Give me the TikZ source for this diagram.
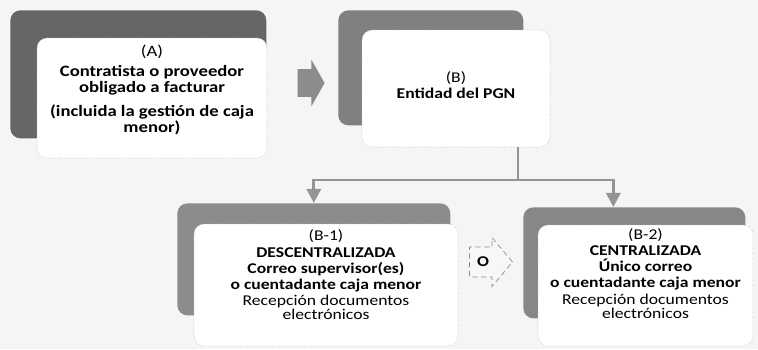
\documentclass[tikz,border=0pt]{standalone}
\usepackage{fontspec}
\setmainfont{Carlito}[FakeStretch=1.18]
\usepackage{tikz}
\usetikzlibrary{arrows.meta,positioning,shapes.arrows}

\begin{document}
\begin{tikzpicture}[x=0.02cm, y=-0.02cm,
shadebox/.style={fill=#1, rounded corners=0.2cm, anchor=north west, inner sep=0pt},
cardbox/.style={draw=black!25, densely dotted, fill=white, rounded corners=0.2cm, inner sep=0pt},
cardtext/.style={align=center, font=\fontsize{8.5}{9.2}\selectfont, inner sep=0pt},
bigarrow/.style={single arrow, fill=black!45, anchor=tip},
link/.style={-{Triangle[width=8pt,length=8pt]}, draw=black!42, line width=1.6pt}
]
\path[use as bounding box, fill=black!4] (0,0) rectangle (758,349);

% shaded backs
\node[shadebox=black!60, minimum width=5.12cm, minimum height=2.56cm] (aback) at (10,10) {};
\node[shadebox=black!50, minimum width=3.7cm, minimum height=2.3cm] (bback) at (338,10) {};
\node[shadebox=black!45, minimum width=5.46cm, minimum height=2.24cm] (b1back) at (177,203) {};
\node[shadebox=black!47, minimum width=4.44cm, minimum height=2.22cm] (b2back) at (523,207) {};

% cards
\node[cardbox, minimum width=4.6cm, minimum height=2.4cm] (a) at (152,98) {};
\node[cardbox, minimum width=3.76cm, minimum height=2.34cm] (b) at (456,88.5) {};
\node[cardbox, minimum width=5.28cm, minimum height=2.44cm] (b1) at (326,285) {};
\node[cardbox, minimum width=4.3cm, minimum height=2.42cm] (b2) at (645.5,285.5) {};

\node[cardtext, font=\fontsize{9}{9.2}\selectfont] (atext) at ([yshift=0.16cm]a.center)
  {(A)\\[2pt]\textbf{Contratista o proveedor}\\\textbf{obligado a facturar}\\[4pt]
   \textbf{(incluida la gestión de caja}\\\textbf{menor)}};
\node[cardtext] (btext) at ([yshift=0.07cm]b.center) {(B)\\\textbf{Entidad del PGN}};
\node[cardtext] (b1text) at ([yshift=0.2cm]b1.center)
  {(B-1)\\\textbf{DESCENTRALIZADA}\\\textbf{Correo supervisor(es)}\\
   \textbf{o cuentadante caja menor}\\Recepción documentos\\[-1pt]electrónicos};
\node[cardtext] (b2text) at ([yshift=0.24cm]b2.center)
  {(B-2)\\\textbf{CENTRALIZADA}\\\textbf{Único correo}\\
   \textbf{o cuentadante caja menor}\\Recepción documentos\\[-1pt]electrónicos};

% block arrows
\node[bigarrow, inner xsep=0pt, inner ysep=0.27cm, minimum height=0.54cm,
  single arrow head extend=0.19cm, single arrow tip angle=121] (ab) at (325,83) {};
\node[bigarrow, fill=black!3, draw=black!45, densely dashed, inner xsep=2pt, inner ysep=5.5pt,
  minimum height=0.86cm, single arrow head extend=0.19cm, single arrow tip angle=100,
  font=\fontsize{8.5}{9.2}\selectfont\bfseries] (or) at (513,262) {O\kern2pt};

% split B into B-1 and B-2
\coordinate (hub) at (518,180);
\draw[draw=black!42, line width=1.6pt] (hub |- b.south) -- (hub);
\draw[link] (hub) -| (b1back.north);
\draw[link] (hub) -| ([xshift=-0.42cm]b2back.north);
\end{tikzpicture}
\end{document}
